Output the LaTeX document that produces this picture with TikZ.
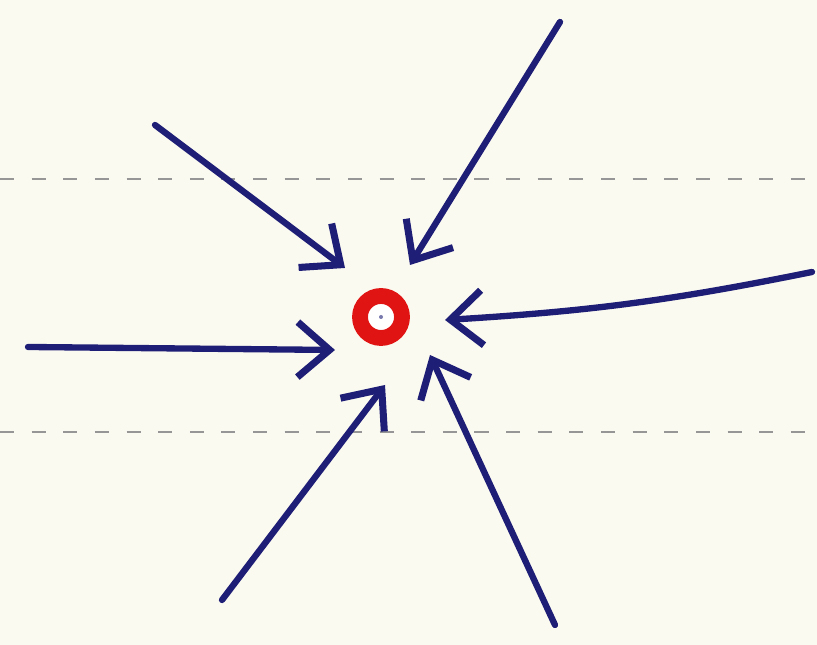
\documentclass[tikz,border=0pt]{standalone}
\usetikzlibrary{arrows.meta}
\definecolor{PaperTone}{RGB}{251,250,240}
\definecolor{InkBlue}{RGB}{30,30,118}
\definecolor{SinkRed}{RGB}{225,20,20}
\definecolor{RuleGrey}{RGB}{150,150,150}

\begin{document}
\begin{tikzpicture}[
    inflow/.style={InkBlue, line width=1.8pt, line cap=round,
                   -{Straight Barb[length=3.2mm, width=5.5mm, line width=2pt]}},
    rule/.style={RuleGrey, line width=0.6pt, dash pattern=on 4pt off 5pt}]
  \fill[PaperTone] (0,0) rectangle (8.17,6.45);
  \useasboundingbox (0,0) rectangle (8.17,6.45);
  % ruled lines of the paper
  \coordinate (ruleAl) at (0,4.66);
  \coordinate (ruleAr) at (8.17,4.66);
  \coordinate (ruleBl) at (0,2.13);
  \coordinate (ruleBr) at (8.17,2.13);
  \draw[rule] (ruleAl) -- (ruleAr);
  \draw[rule] (ruleBl) -- (ruleBr);
  % the sink
  \node[circle, draw=SinkRed, line width=4.5pt, fill=white,
        minimum size=0.42cm, inner sep=0pt] (sink) at (3.81,3.28) {};
  \fill[InkBlue!60] (sink.center) circle (0.02);
  % arrow tails and heads
  \coordinate (tailNW) at (1.55,5.20);  \coordinate (headNW) at (3.45,3.77);
  \coordinate (tailNE) at (5.60,6.23);  \coordinate (headNE) at (4.10,3.80);
  \coordinate (tailE)  at (8.12,3.73);  \coordinate (headE)  at (4.45,3.25);
  \coordinate (tailW)  at (0.28,2.98);  \coordinate (headW)  at (3.35,2.95);
  \coordinate (tailSW) at (2.22,0.45);  \coordinate (headSW) at (3.85,2.60);
  \coordinate (tailSE) at (5.55,0.20);  \coordinate (headSE) at (4.30,2.90);
  \draw[inflow] (tailNW) -- (headNW);
  \draw[inflow] (tailNE) -- (headNE);
  \draw[inflow] (tailE) to[bend left=4] (headE);
  \draw[inflow] (tailW) -- (headW);
  \draw[inflow] (tailSW) -- (headSW);
  \draw[inflow] (tailSE) -- (headSE);
\end{tikzpicture}
\end{document}
